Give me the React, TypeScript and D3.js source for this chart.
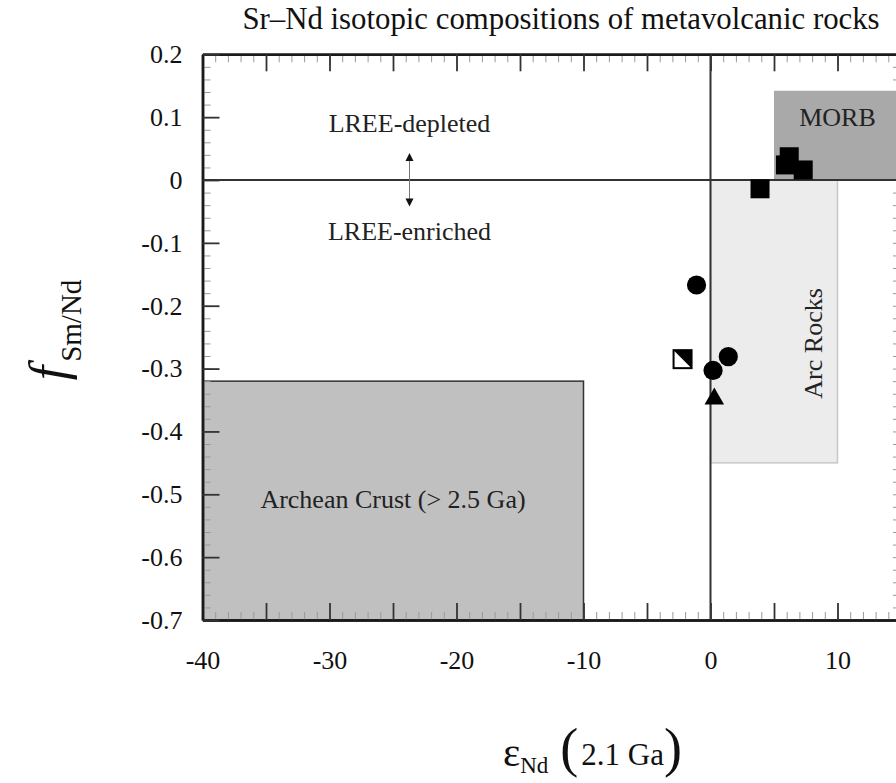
import React, { useEffect, useRef } from "react";
import * as d3 from "d3";

// data
const squares = [
  [3.9, -0.014],
  [5.9, 0.024],
  [6.2, 0.037],
  [7.3, 0.016],
];
const circles = [
  [-1.1, -0.167],
  [1.4, -0.281],
  [0.2, -0.303],
];
const halfSquares = [[-2.2, -0.285]];
const triangles = [[0.3, -0.348]];

const fields = [
  { name: "Archean Crust (> 2.5 Ga)", x0: -40, x1: -10, y0: -0.7, y1: -0.32 },
  { name: "MORB", x0: 5, x1: 15, y0: 0, y1: 0.142 },
  { name: "Arc Rocks", x0: 0, x1: 10, y0: -0.45, y1: 0 },
];

const xMajor = [-40, -35, -30, -25, -20, -15, -10, -5, 0, 5, 10, 15];
const xLabels = [-40, -30, -20, -10, 0, 10];
const yMajor = [-0.7, -0.6, -0.5, -0.4, -0.3, -0.2, -0.1, 0, 0.1, 0.2];

const FONT = "'Liberation Serif', 'Times New Roman', serif";

export default function App() {
  const ref = useRef<SVGSVGElement>(null);

  useEffect(() => {
    const width = 896;
    const height = 783;
    const left = 202.5;
    const right = 901;
    const top = 54.3;
    const bottom = 620;

    const svg = d3.select(ref.current);
    svg.selectAll("*").remove();
    svg.attr("width", width).attr("height", height);

    const x = d3.scaleLinear().domain([-40, 15]).range([left, right]);
    const y = d3.scaleLinear().domain([-0.7, 0.2]).range([bottom, top]);

    const xMinor = d3.range(-40, 16, 1);
    const yMinor = d3.range(-35, 11, 1).map((d) => d / 50);

    const fmtY = (d: any) => (Math.abs(d) < 1e-9 ? "0" : d.toFixed(1));
    const styleAxis = (g: any, major: boolean) => {
      g.select(".domain").attr("stroke", "#1a1a1a").attr("stroke-width", 2.5);
      g.selectAll(".tick line")
        .attr("stroke", major ? "#333" : "#999")
        .attr("stroke-width", major ? 1.8 : 1);
      g.selectAll(".tick text")
        .attr("font-family", FONT)
        .attr("font-size", 26)
        .attr("fill", "#111");
    };

    // right axis sits under the fields (MORB covers its ticks)
    svg.append("g").attr("transform", `translate(${right},0)`)
      .call(d3.axisRight(y).tickValues(yMinor).tickSize(-8).tickSizeOuter(0).tickFormat(() => ""))
      .call((g: any) => styleAxis(g, false));

    svg
      .append("clipPath")
      .attr("id", "plot-clip")
      .append("rect")
      .attr("x", left)
      .attr("y", top)
      .attr("width", right - left)
      .attr("height", bottom - top);

    const plot = svg.append("g").attr("clip-path", "url(#plot-clip)");

    // compositional fields
    const fieldStyle: Record<string, any> = {
      MORB: { fill: "#a9a9a9", stroke: "none" },
      "Arc Rocks": { fill: "#ececec", stroke: "#c8c8c8" },
      "Archean Crust (> 2.5 Ga)": { fill: "#c0c0c0", stroke: "#333" },
    };
    plot
      .selectAll("rect.field")
      .data(fields)
      .enter()
      .append("rect")
      .attr("class", "field")
      .attr("x", (d) => x(d.x0))
      .attr("y", (d) => y(d.y1))
      .attr("width", (d) => x(d.x1) - x(d.x0))
      .attr("height", (d) => y(d.y0) - y(d.y1))
      .attr("fill", (d) => fieldStyle[d.name].fill)
      .attr("stroke", (d) => fieldStyle[d.name].stroke)
      .attr("stroke-width", 1.5);

    // zero lines
    plot
      .append("line")
      .attr("x1", x(0))
      .attr("x2", x(0))
      .attr("y1", top)
      .attr("y2", bottom)
      .attr("stroke", "#333")
      .attr("stroke-width", 2);
    plot
      .append("line")
      .attr("x1", left)
      .attr("x2", right)
      .attr("y1", y(0))
      .attr("y2", y(0))
      .attr("stroke", "#333")
      .attr("stroke-width", 2);

    // field labels
    const txt = (g: any) =>
      g.attr("font-family", FONT).attr("font-size", 26).attr("fill", "#222");
    txt(plot.append("text"))
      .attr("x", x(10))
      .attr("y", y(0.086))
      .attr("text-anchor", "middle")
      .text("MORB");
    txt(plot.append("text"))
      .attr("transform", `translate(${x(8.8)},${y(-0.26)}) rotate(-90)`)
      .attr("text-anchor", "middle")
      .text("Arc Rocks");
    txt(plot.append("text"))
      .attr("x", x(-25))
      .attr("y", y(-0.522))
      .attr("text-anchor", "middle")
      .text("Archean Crust (> 2.5 Ga)");
    txt(plot.append("text"))
      .attr("x", x(-23.7))
      .attr("y", y(0.077))
      .attr("text-anchor", "middle")
      .text("LREE-depleted");
    txt(plot.append("text"))
      .attr("x", x(-23.7))
      .attr("y", y(-0.096))
      .attr("text-anchor", "middle")
      .text("LREE-enriched");

    // double arrow
    const ax = x(-23.7);
    const aTop = y(0.043);
    const aBot = y(-0.042);
    plot
      .append("line")
      .attr("x1", ax)
      .attr("x2", ax)
      .attr("y1", aTop + 6)
      .attr("y2", aBot - 6)
      .attr("stroke", "#777")
      .attr("stroke-width", 1);
    plot
      .append("path")
      .attr("d", `M${ax},${aTop} L${ax - 4},${aTop + 8} L${ax + 4},${aTop + 8} Z`)
      .attr("fill", "#111");
    plot
      .append("path")
      .attr("d", `M${ax},${aBot} L${ax - 4},${aBot - 8} L${ax + 4},${aBot - 8} Z`)
      .attr("fill", "#111");

    // axes: minor ticks first
    svg.append("g").attr("transform", `translate(0,${bottom})`)
      .call(d3.axisBottom(x).tickValues(xMinor).tickSize(-8).tickSizeOuter(0).tickFormat(() => ""))
      .call((g: any) => styleAxis(g, false));
    svg.append("g").attr("transform", `translate(0,${top})`)
      .call(d3.axisTop(x).tickValues(xMinor).tickSize(-8).tickSizeOuter(0).tickFormat(() => ""))
      .call((g: any) => styleAxis(g, false));
    svg.append("g").attr("transform", `translate(${left},0)`)
      .call(d3.axisLeft(y).tickValues(yMinor).tickSize(-8).tickSizeOuter(0).tickFormat(() => ""))
      .call((g: any) => styleAxis(g, false));

    svg.append("g").attr("transform", `translate(0,${bottom})`)
      .call(
        d3.axisBottom(x).tickValues(xMajor).tickSize(-17).tickSizeOuter(0).tickPadding(31)
          .tickFormat((d: any) => (xLabels.includes(d) ? String(d) : ""))
      )
      .call((g: any) => styleAxis(g, true));
    svg.append("g").attr("transform", `translate(0,${top})`)
      .call(d3.axisTop(x).tickValues(xMajor).tickSize(-17).tickSizeOuter(0).tickFormat(() => ""))
      .call((g: any) => styleAxis(g, true));
    svg.append("g").attr("transform", `translate(${left},0)`)
      .call(d3.axisLeft(y).tickValues(yMajor).tickSize(-17).tickSizeOuter(0).tickPadding(20).tickFormat(fmtY))
      .call((g: any) => styleAxis(g, true));

    // samples
    const pts = svg.append("g");
    pts.selectAll("path.sq")
      .data(squares)
      .enter()
      .append("path")
      .attr("d", d3.symbol().type(d3.symbolSquare).size(19 * 19))
      .attr("transform", (d) => `translate(${x(d[0])},${y(d[1])})`)
      .attr("fill", "#000");
    pts.selectAll("circle")
      .data(circles)
      .enter()
      .append("circle")
      .attr("cx", (d) => x(d[0]))
      .attr("cy", (d) => y(d[1]))
      .attr("r", 9.6)
      .attr("fill", "#000");
    pts.selectAll("path.tri")
      .data(triangles)
      .enter()
      .append("path")
      .attr("d", d3.symbol().type(d3.symbolTriangle).size(165))
      .attr("transform", (d) => `translate(${x(d[0])},${y(d[1])})`)
      .attr("fill", "#000");
    const hs = 9;
    const half = pts.selectAll("g.half").data(halfSquares).enter().append("g")
      .attr("transform", (d) => `translate(${x(d[0])},${y(d[1])})`);
    half.append("rect")
      .attr("x", -hs).attr("y", -hs).attr("width", 2 * hs).attr("height", 2 * hs)
      .attr("fill", "#fff").attr("stroke", "#000").attr("stroke-width", 2);
    half.append("path")
      .attr("d", `M${-hs},${-hs} L${hs},${-hs} L${hs},${hs} Z`)
      .attr("fill", "#000");

    // titles
    svg.append("text")
      .attr("x", 561)
      .attr("y", 29)
      .attr("text-anchor", "middle")
      .attr("font-family", FONT)
      .attr("font-size", 30.8)
      .attr("fill", "#111")
      .text("Sr\u2013Nd isotopic compositions of metavolcanic rocks");

    const yl = svg.append("text")
      .attr("transform", "translate(66,330) rotate(-90)")
      .attr("text-anchor", "middle")
      .attr("font-family", FONT)
      .attr("fill", "#111");
    yl.append("tspan").attr("font-size", 52).attr("font-style", "italic").text("f");
    yl.append("tspan").attr("font-size", 29).attr("dx", 4).attr("dy", 15).text("Sm/Nd");

    const xl = svg.append("text")
      .attr("x", 503)
      .attr("y", 766)
      .attr("font-family", FONT)
      .attr("fill", "#111");
    xl.append("tspan").attr("font-size", 41).text("\u03b5");
    xl.append("tspan").attr("font-size", 23).attr("dy", 7).text("Nd");
    xl.append("tspan").attr("font-size", 54).attr("dx", 12).attr("dy", -7).text("(");
    xl.append("tspan").attr("font-size", 31).attr("dx", 3).attr("dy", -1).text("2.1 Ga");
    xl.append("tspan").attr("font-size", 54).attr("dy", 1).text(")");
  }, []);

  return (
    <svg
      ref={ref}
      style={{ position: "absolute", left: 0, top: 0, background: "#fff" }}
    />
  );
}
